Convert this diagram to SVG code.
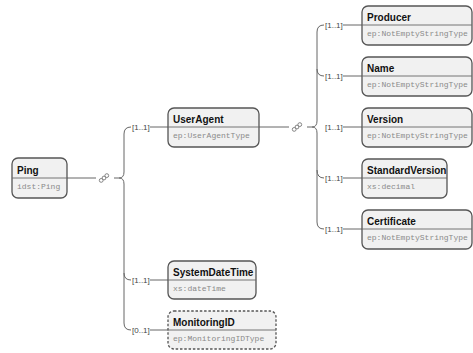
<svg xmlns="http://www.w3.org/2000/svg" width="473" height="353" viewBox="0 0 473 353">
<defs>
<style>
.box{fill:#f1f1f1;stroke:#555;stroke-width:1.3}
.opt{stroke-dasharray:2.5,1.8}
.sep{stroke:#666;stroke-width:0.9}
.name{font-family:"Liberation Sans",Arial,sans-serif;font-weight:bold;font-size:10px;fill:#111}
.type{font-family:"Liberation Mono","Courier New",monospace;font-size:8px;fill:#8a8a8a}
.card{font-family:"Liberation Sans",Arial,sans-serif;font-size:8px;fill:#444}
.ln{fill:none;stroke:#666;stroke-width:1}
.seqc{fill:#fff;stroke:#777;stroke-width:0.9}
</style>
<g id="seq">
<path d="M-3,2.5 L3,-2.5" class="ln" stroke="#777"/>
<circle cx="-2.8" cy="2.4" r="1.9" class="seqc"/>
<circle cx="0" cy="0" r="1.9" class="seqc"/>
<circle cx="2.8" cy="-2.4" r="1.9" class="seqc"/>
</g>
</defs>
<rect width="473" height="353" fill="#fff"/>

<g id="connectors">
<path class="ln" d="M67,178 H96"/>
<use href="#seq" x="104" y="178"/>
<path class="ln" d="M114,178 H119"/>
<path class="ln" d="M131,127 Q124,127 124,134 V172 Q124,178 119,178 Q124,178 124,184 V323 Q124,330 131,330"/>
<path class="ln" d="M124,273 Q124,280 131,280"/>
<path class="ln" d="M150,127 H168"/>
<path class="ln" d="M150,280 H168"/>
<path class="ln" d="M150,330 H168"/>
<path class="ln" d="M259,127 H289"/>
<use href="#seq" x="297" y="127"/>
<path class="ln" d="M307,127 H312"/>
<path class="ln" d="M324,25 Q317,25 317,32 V121 Q317,127 312,127 Q317,127 317,133 V222 Q317,229 324,229"/>
<path class="ln" d="M317,69 Q317,76 324,76"/>
<path class="ln" d="M317,170 Q317,178 324,178"/>
<path class="ln" d="M343,25 H362"/>
<path class="ln" d="M343,76 H362"/>
<path class="ln" d="M343,127 H362"/>
<path class="ln" d="M343,178 H362"/>
<path class="ln" d="M343,229 H362"/>
<text class="card" x="132" y="130">[1..1]</text>
<text class="card" x="132" y="283">[1..1]</text>
<text class="card" x="132" y="333">[0..1]</text>
<text class="card" x="325" y="28">[1..1]</text>
<text class="card" x="325" y="79">[1..1]</text>
<text class="card" x="325" y="130">[1..1]</text>
<text class="card" x="325" y="181">[1..1]</text>
<text class="card" x="325" y="232">[1..1]</text>
</g>

<g id="Ping">
<rect class="box" x="12" y="158" width="55" height="40" rx="6"/>
<path class="sep" d="M12,178 H67"/>
<text class="name" x="17" y="174">Ping</text>
<text class="type" x="17" y="189">idst:Ping</text>
</g>

<g id="UserAgent">
<rect class="box" x="168" y="108" width="91" height="39" rx="6"/>
<path class="sep" d="M168,127 H259"/>
<text class="name" x="173" y="123">UserAgent</text>
<text class="type" x="173" y="138">ep:UserAgentType</text>
</g>

<g id="SystemDateTime">
<rect class="box" x="168" y="261" width="88" height="38" rx="6"/>
<path class="sep" d="M168,280 H256"/>
<text class="name" x="173" y="276">SystemDateTime</text>
<text class="type" x="173" y="291">xs:dateTime</text>
</g>

<g id="MonitoringID">
<rect class="box opt" x="168" y="311" width="108" height="38" rx="6"/>
<path class="sep" d="M168,330 H276"/>
<text class="name" x="173" y="326">MonitoringID</text>
<text class="type" x="173" y="341">ep:MonitoringIDType</text>
</g>

<g id="Producer">
<rect class="box" x="362" y="6" width="110" height="39" rx="6"/>
<path class="sep" d="M362,25 H472"/>
<text class="name" x="367" y="21">Producer</text>
<text class="type" x="367" y="36">ep:NotEmptyStringType</text>
</g>

<g id="Name">
<rect class="box" x="362" y="57" width="110" height="39" rx="6"/>
<path class="sep" d="M362,76 H472"/>
<text class="name" x="367" y="72">Name</text>
<text class="type" x="367" y="87">ep:NotEmptyStringType</text>
</g>

<g id="Version">
<rect class="box" x="362" y="108" width="110" height="39" rx="6"/>
<path class="sep" d="M362,127 H472"/>
<text class="name" x="367" y="123">Version</text>
<text class="type" x="367" y="138">ep:NotEmptyStringType</text>
</g>

<g id="StandardVersion">
<rect class="box" x="362" y="159" width="85" height="39" rx="6"/>
<path class="sep" d="M362,178 H447"/>
<text class="name" x="367" y="174">StandardVersion</text>
<text class="type" x="367" y="189">xs:decimal</text>
</g>

<g id="Certificate">
<rect class="box" x="362" y="210" width="110" height="39" rx="6"/>
<path class="sep" d="M362,229 H472"/>
<text class="name" x="367" y="225">Certificate</text>
<text class="type" x="367" y="240">ep:NotEmptyStringType</text>
</g>
</svg>
